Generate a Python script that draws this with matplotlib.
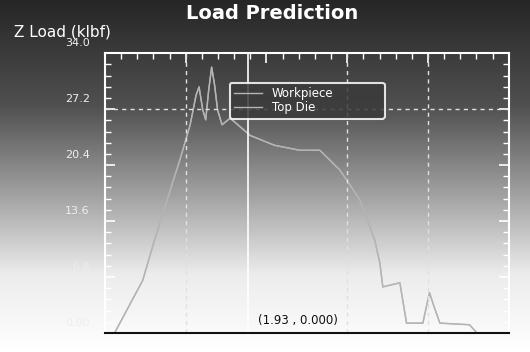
import matplotlib

matplotlib.use("Agg")
import matplotlib.pyplot as plt
import numpy as np
from matplotlib.colors import LinearSegmentedColormap
from matplotlib.ticker import MultipleLocator, FixedLocator

# (time in s, Z load in klbf)
time_s = [0.13, 0.51, 0.67, 0.84, 1.01, 1.15, 1.23, 1.27, 1.32, 1.36, 1.40, 1.44,
          1.48, 1.52, 1.58, 1.69, 1.96, 2.29, 2.63, 2.90, 3.17, 3.44, 3.64, 3.71,
          3.75, 3.98, 4.07, 4.29, 4.38, 4.43, 4.52, 4.92, 5.02]
z_load = [0.0, 6.4, 11.3, 16.2, 21.0, 25.3, 28.9, 29.9, 27.1, 25.9, 29.5, 32.3,
          30.1, 27.1, 25.3, 26.1, 24.0, 22.8, 22.2, 22.2, 19.8, 16.2, 11.3, 8.5,
          5.6, 6.1, 1.2, 1.2, 4.9, 3.5, 1.2, 1.0, 0.0]
series_names = ["Workpiece", "Top Die"]

y_ticks = [0.0, 6.8, 13.6, 20.4, 27.2, 34.0]
y_tick_labels = ["0.00", "6.8", "13.6", "20.4", "27.2", "34.0"]
x_grid = [1.09, 3.27, 4.36]
cursor = (1.93, 0.000)

fig = plt.figure(figsize=(5.3, 3.52), dpi=100)

# grey gradient backdrop, dark at top
bg = fig.add_axes([0, 0, 1, 1], zorder=0)
grad = np.linspace(0, 1, 256).reshape(-1, 1)
cmap = LinearSegmentedColormap.from_list(
    "scan", [(0, "#262626"), (0.3, "#505050"), (0.55, "#a0a0a0"), (0.78, "#ececec"), (1, "#ffffff")])
bg.imshow(grad, aspect="auto", cmap=cmap, extent=[0, 1, 0, 1])
bg.axis("off")

ax = fig.add_axes([0.198, 0.054, 0.762, 0.795], zorder=1)
ax.patch.set_alpha(0)
ax.set_xlim(0, 5.45)
ax.set_ylim(0, 34.0)

for name in series_names:
    ax.plot(time_s, z_load, color="#b4b4b4", lw=1.0, label=name)

for gx in x_grid:
    ax.axvline(gx, color="#e0e0e0", lw=1.0, ls=(0, (3, 3)))
ax.axhline(y_ticks[4], color="#e0e0e0", lw=1.0, ls=(0, (3, 3)))
ax.axvline(cursor[0], color="white", lw=1.2)

for side in ["left", "top", "right"]:
    ax.spines[side].set_color("white")
    ax.spines[side].set_linewidth(1.5)
ax.spines["bottom"].set_color("#111111")
ax.spines["bottom"].set_linewidth(1.5)

ax.yaxis.set_major_locator(FixedLocator(y_ticks))
ax.yaxis.set_minor_locator(MultipleLocator(1.36))
ax.xaxis.set_major_locator(MultipleLocator(1.09))
ax.xaxis.set_minor_locator(MultipleLocator(0.218))
ax.tick_params(which="both", direction="in", colors="white", top=True, right=True,
               bottom=False, labelbottom=False, labelleft=False)
ax.tick_params(which="major", length=7, width=1.2)
ax.tick_params(which="minor", length=4, width=1.0)

for yv, lab in zip(y_ticks, y_tick_labels):
    ax.annotate(lab, (0, yv), xytext=(-11, 7), textcoords="offset points",
                ha="right", va="center", color="#eeeeee", fontsize=8)

fig.text(0.513, 0.962, "Load Prediction", ha="center", va="center",
         color="white", fontsize=14, fontweight="bold")
fig.text(0.027, 0.91, "Z Load (klbf)", ha="left", va="center", color="white", fontsize=11)

ax.annotate(f"({cursor[0]:.2f} , {cursor[1]:.3f})", (cursor[0], 0), xytext=(7, 4),
            textcoords="offset points", ha="left", va="bottom", fontsize=8.5, color="#111111")

leg = ax.legend(loc="upper left", bbox_to_anchor=(0.309, 0.773, 0.384, 0.12), mode="expand",
                borderaxespad=0, frameon=True, fontsize=8.5, handlelength=2.4, borderpad=0.35,
                labelspacing=0.1, fancybox=True)
leg.get_frame().set_facecolor("#3a3a3a")
leg.get_frame().set_alpha(0.85)
leg.get_frame().set_edgecolor("white")
leg.get_frame().set_linewidth(1.5)
for t in leg.get_texts():
    t.set_color("white")

fig.savefig("out.png", dpi=100)
